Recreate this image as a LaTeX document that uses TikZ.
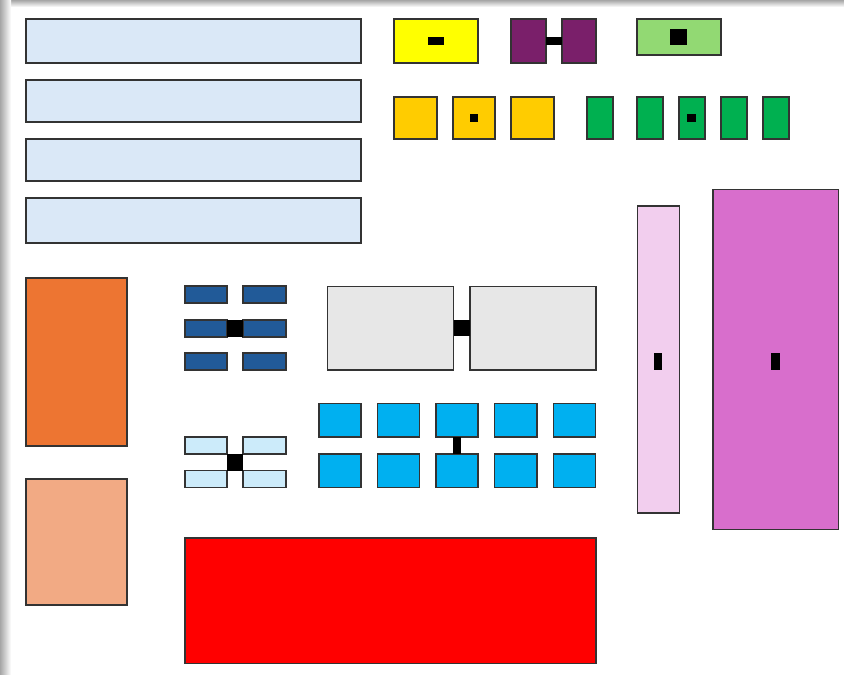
\documentclass[tikz,border=0pt]{standalone}
\usetikzlibrary{calc}
\definecolor{cLB}{HTML}{DAE8F7}
\definecolor{cYe}{HTML}{FFFF00}
\definecolor{cPu}{HTML}{7A1F6A}
\definecolor{cLG}{HTML}{92D973}
\definecolor{cGo}{HTML}{FFCC00}
\definecolor{cGr}{HTML}{00B050}
\definecolor{cPk}{HTML}{F2CEEE}
\definecolor{cMg}{HTML}{D86ECC}
\definecolor{cOr}{HTML}{ED7532}
\definecolor{cLO}{HTML}{F2AA84}
\definecolor{cDB}{HTML}{215A98}
\definecolor{cGy}{HTML}{E7E7E7}
\definecolor{cLC}{HTML}{CCEBFA}
\definecolor{cCy}{HTML}{00B0F0}
\definecolor{cRd}{HTML}{FF0000}
\tikzset{
  shp/.style={draw=black!80,line width=1.1pt,rectangle,inner sep=0pt,outer sep=0pt},
  blk/.style={fill=black,draw=none,rectangle,inner sep=0pt,outer sep=0pt}
}
\newcommand\rb[6]{\node[shp,fill=#6,minimum width={(#4-#2)*1pt},minimum height={(#5-#3)*1pt}] (#1) at ({(#2+#4)/2},{(#3+#5)/2}) {};}
\newcommand\bk[5]{\node[blk,minimum width={(#4-#2)*1pt},minimum height={(#5-#3)*1pt}] (#1) at ({(#2+#4)/2},{(#3+#5)/2}) {};}
\begin{document}
\begin{tikzpicture}[x=1pt,y=-1pt]
\useasboundingbox (0,0) rectangle (844,675);
\fill[white] (0,0) rectangle (844,675);
% shadow
\shade[left color=black!35,right color=white] (0,0) rectangle (11,675);
\shade[top color=black!35,bottom color=white] (11,0) rectangle (844,7);
\shade[left color=black!35,right color=white] (0,0) rectangle (11,7);
% light blue bars
\rb{lb1}{26}{19}{361}{63}{cLB}
\rb{lb2}{26}{80}{361}{122}{cLB}
\rb{lb3}{26}{139}{361}{181}{cLB}
\rb{lb4}{26}{198}{361}{243}{cLB}
% yellow
\rb{ye}{394}{19}{478}{63}{cYe}
\bk{yek}{428}{37}{444}{45}
% purple pair
\rb{pu1}{511}{19}{546}{63}{cPu}
\rb{pu2}{562}{19}{596}{63}{cPu}
\fill (pu1.east |- 0,37) rectangle (pu2.west |- 0,45);
% light green
\rb{lg}{637}{19}{721}{55}{cLG}
\bk{lgk}{670}{29}{687}{45}
% gold squares
\rb{go1}{394}{97}{437}{139}{cGo}
\rb{go2}{453}{97}{495}{139}{cGo}
\rb{go3}{511}{97}{554}{139}{cGo}
\bk{gok}{469.5}{114}{478}{122}
% green rects
\rb{gr1}{587}{97}{613}{139}{cGr}
\rb{gr2}{637}{97}{663}{139}{cGr}
\rb{gr3}{679}{97}{705}{139}{cGr}
\rb{gr4}{721}{97}{747}{139}{cGr}
\rb{gr5}{763}{97}{789}{139}{cGr}
\bk{grk}{687}{114}{695.5}{122}
% pink and magenta
\rb{pk}{637.5}{206}{679.5}{513}{cPk}
\bk{pkk}{653.5}{353}{662}{370}
\rb{mg}{713}{189.5}{838.5}{529.5}{cMg}
\bk{mgk}{771}{353}{779.5}{370}
% orange
\rb{or}{26}{278}{127}{446}{cOr}
\rb{lo}{26}{479}{127}{605}{cLO}
% dark blue bars
\rb{db1}{185}{286}{227}{303}{cDB}
\rb{db2}{243}{286}{286}{303}{cDB}
\rb{db3}{185}{320}{227}{337}{cDB}
\rb{db4}{243}{320}{286}{337}{cDB}
\rb{db5}{185}{353}{227}{370}{cDB}
\rb{db6}{243}{353}{286}{370}{cDB}
\fill (db3.north east) rectangle (db4.south west);
% light gray
\rb{gy1}{327.5}{286.5}{453.5}{370}{cGy}
\rb{gy2}{470}{286.5}{596}{370}{cGy}
\fill (gy1.east |- 0,319.5) rectangle (gy2.west |- 0,336);
% light cyan bars
\rb{lc1}{185}{437}{227}{454}{cLC}
\rb{lc2}{243}{437}{286}{454}{cLC}
\rb{lc3}{185}{470.5}{227}{487.5}{cLC}
\rb{lc4}{243}{470.5}{286}{487.5}{cLC}
\fill (lc1.south east) rectangle (lc4.north west);
% cyan squares
\rb{cy1}{319}{403.5}{361}{437}{cCy}
\rb{cy2}{377.5}{403.5}{419.5}{437}{cCy}
\rb{cy3}{436}{403.5}{478}{437}{cCy}
\rb{cy4}{494.5}{403.5}{537}{437}{cCy}
\rb{cy5}{553.5}{403.5}{595.5}{437}{cCy}
\rb{cy6}{319}{454}{361}{487.5}{cCy}
\rb{cy7}{377.5}{454}{419.5}{487.5}{cCy}
\rb{cy8}{436}{454}{478}{487.5}{cCy}
\rb{cy9}{494.5}{454}{537}{487.5}{cCy}
\rb{cy10}{553.5}{454}{595.5}{487.5}{cCy}
\fill (452.5,0 |- cy3.south) rectangle (461,0 |- cy8.north);
% red
\rb{rd}{185}{538}{596}{663.5}{cRd}
\end{tikzpicture}
\end{document}
